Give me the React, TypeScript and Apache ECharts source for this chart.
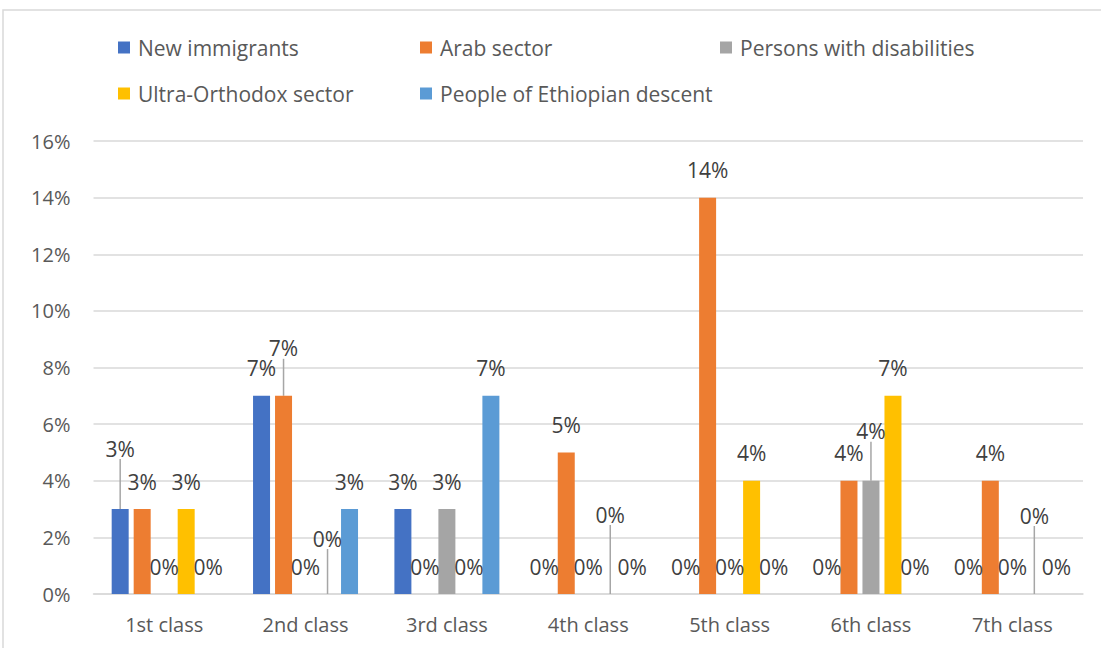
import React, { useEffect, useRef } from "react";
import * as echarts from "echarts";

const categories = ["1st class", "2nd class", "3rd class", "4th class", "5th class", "6th class", "7th class"];
const seriesNames = ["New immigrants", "Arab sector", "Persons with disabilities", "Ultra-Orthodox sector", "People of Ethiopian descent"];
const newImmigrants = [3, 7, 3, 0, 0, 0, 0];
const arabSector = [3, 7, 0, 5, 14, 4, 4];
const disabilities = [0, 0, 3, 0, 0, 4, 0];
const ultraOrthodox = [3, 0, 0, 0, 4, 7, 0];
const ethiopian = [0, 3, 7, 0, 0, 0, 0];
const yTicks = [0, 2, 4, 6, 8, 10, 12, 14, 16];

const colors = ["#4472C4", "#ED7D31", "#A5A5A5", "#FFC000", "#5B9BD5"];
// labels that Excel moved upward with a leader line: [seriesIndex, dataIndex, dy]
const movedLabels: [number, number, number][] = [
  [0, 0, -33],
  [1, 1, -20],
  [3, 1, -28],
  [3, 3, -52],
  [2, 5, -22],
  [3, 6, -51],
];
// legend placement: [left, top]
const legendPos: [number, number][] = [
  [118, 37],
  [420, 37],
  [720, 37],
  [118, 83],
  [420, 83],
];

const FONT = "'Open Sans', sans-serif";

export default function App() {
  const ref = useRef<HTMLDivElement>(null);
  useEffect(() => {
    if (!ref.current) return;
    const chart = echarts.init(ref.current, undefined, { renderer: "svg" });
    const all = [newImmigrants, arabSector, disabilities, ultraOrthodox, ethiopian];
    const series = all.map((vals, si) => ({
      type: "bar",
      name: seriesNames[si],
      data: vals.map((v, di) => {
        const m = movedLabels.find((x) => x[0] === si && x[1] === di);
        return m ? { value: v, labelLine: { show: true } } : { value: v };
      }),
      barWidth: 17,
      barGap: "29.4%",
      itemStyle: { color: colors[si] },
      label: {
        show: true,
        position: "top",
        distance: 17,
        formatter: "{c}%",
        color: "#404040",
        fontSize: 21,
        fontFamily: FONT,
      },
      labelLine: { show: false, lineStyle: { color: "#a6a6a6", width: 1.5 } },
      labelLayout: (p: any) => {
        const m = movedLabels.find((x) => x[0] === si && x[1] === p.dataIndex);
        return m ? { dy: m[2] } : {};
      },
    }));
    chart.setOption({
      animation: false,
      color: colors,
      graphic: [
        {
          type: "rect",
          shape: { x: 3, y: 10, width: 1200, height: 800 },
          style: { fill: "none", stroke: "#d9d9d9", lineWidth: 1.5 },
          silent: true,
        },
      ],
      legend: seriesNames.map((n, i) => ({
        data: [n],
        left: legendPos[i][0],
        top: legendPos[i][1],
        padding: 0,
        itemWidth: 12,
        itemHeight: 12,
        icon: "rect",
        textStyle: { fontSize: 21, color: "#595959", fontFamily: FONT, padding: [0, 0, 0, 3] },
      })),
      grid: { left: 93.5, right: 18, top: 141, bottom: 54 },
      xAxis: {
        type: "category",
        data: categories,
        axisTick: { show: false },
        axisLine: { lineStyle: { color: "#d9d9d9", width: 1.5 } },
        axisLabel: { color: "#595959", fontSize: 20, fontFamily: FONT, margin: 20 },
      },
      yAxis: {
        type: "value",
        min: yTicks[0],
        max: yTicks[yTicks.length - 1],
        interval: 2,
        axisLabel: { formatter: "{value}%", color: "#595959", fontSize: 20, fontFamily: FONT, margin: 23 },
        splitLine: { lineStyle: { color: "#d9d9d9", width: 1.5 } },
        axisLine: { show: false },
        axisTick: { show: false },
      },
      series,
    });
    return () => chart.dispose();
  }, []);
  return <div ref={ref} style={{ position: "fixed", left: 0, top: 0, width: 1101, height: 648, background: "#fff" }} />;
}
